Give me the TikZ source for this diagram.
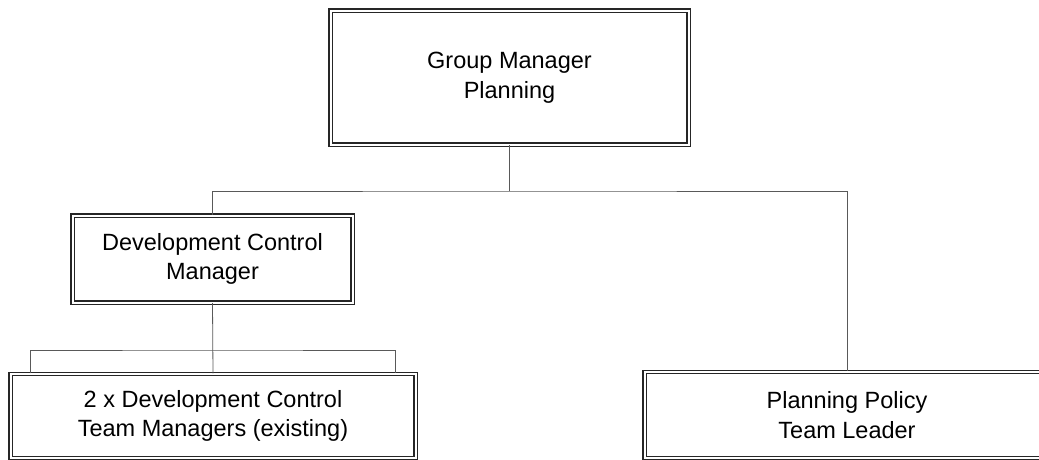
\documentclass[tikz,border=0pt]{standalone}
\usepackage{fontspec}
\setmainfont{Liberation Sans}
\usepackage{tikz}
\usetikzlibrary{positioning}

\begin{document}
\begin{tikzpicture}[
  x=1pt, y=-1pt,
  post/.style={rectangle, draw=black!85, line width=1.1pt, double=white,
              double distance=2pt, inner sep=0pt, align=center,
              font=\fontsize{23.5}{29.5}\selectfont},
  link/.style={draw=black!65, line width=0.8pt}
]
\useasboundingbox (0,0) rectangle (1039,459);

% boxes
\node[post, minimum width=358pt, minimum height=134pt] (gm) at (509.5,77.5)
  {Group Manager\\Planning};
\node[post, minimum width=280pt, minimum height=87pt] (dcm) at (212.5,259)
  {Development Control\\Manager};
\node[post, minimum width=405pt, minimum height=84pt] (tm) at (213,416)
  {2 x Development Control\\Team Managers (existing)};
\node[post, minimum width=405pt, minimum height=86pt] (ppl) at (847,415)
  {Planning Policy\\Team Leader};

% connectors
\coordinate (bar1) at (509.5,191);
\coordinate (bar2) at (212.5,350);
\draw[link] (gm.south) -- (bar1);
\draw[link] (dcm.north) |- (bar1) -| (ppl.north);
\draw[link] (dcm.south) -- (tm.north);
\draw[link] ([xshift=-183pt]tm.north) |- (bar2) -| ([xshift=182pt]tm.north);

\end{tikzpicture}
\end{document}
